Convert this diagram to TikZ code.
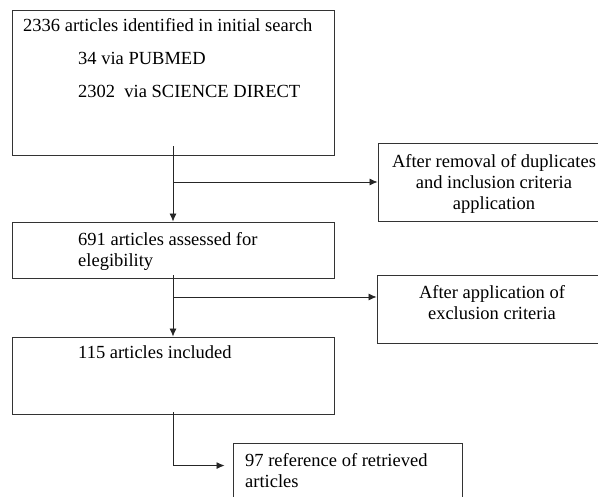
\documentclass[tikz,border=0pt]{standalone}
\usepackage{fontspec}
\setmainfont{Liberation Serif}
\usetikzlibrary{arrows.meta}

\begin{document}
\begin{tikzpicture}[x=1pt, y=-1pt,
  font=\fontsize{18.5}{21}\selectfont,
  box/.style={draw=black!80, line width=0.9pt, inner sep=0pt},
  txt/.style={inner sep=0pt, anchor=base west},
  ctxt/.style={inner sep=0pt, anchor=north, align=center},
  flow/.style={draw=black!85, line width=0.8pt, -{Latex[length=8pt,width=7pt]}}]
  \useasboundingbox (0,0) rectangle (598,497);
  \clip (0,0) rectangle (598,497);

  \node[box, minimum width=322pt, minimum height=145pt] (search) at (173,82.5) {};
  \node[box, minimum width=322pt, minimum height=56pt] (assessed) at (173,250) {};
  \node[box, minimum width=322pt, minimum height=77pt] (included) at (173,375.5) {};
  \node[box, minimum width=230pt, minimum height=78pt] (removal) at (493,182) {};
  \node[box, minimum width=231pt, minimum height=68pt] (exclusion) at (492.5,309) {};
  \node[box, minimum width=229pt, minimum height=66pt] (retrieved) at (347.5,476) {};

  \node[txt] (searchtxt) at (23,32) {2336 articles identified in initial search};
  \node[txt] (pubmed) at (78,65) {34 via PUBMED};
  \node[txt] (scidir) at (78,98) {2302\ \ via SCIENCE DIRECT};
  \node[txt, align=left, anchor=north west] (assessedtxt) at (78,232.5)
    {691 articles assessed for\\ elegibility};
  \node[txt] (includedtxt) at (78,359) {115 articles included};
  \node[ctxt] (removaltxt) at (494,154.5)
    {After removal of duplicates\\ and inclusion criteria\\ application};
  \node[ctxt] (exclusiontxt) at (492,285.5)
    {After application of\\ exclusion criteria};
  \node[txt, align=left, anchor=north west] (retrievedtxt) at (245,453.5)
    {97 reference of retrieved\\ articles};

  \coordinate (excl) at ([yshift=12pt]exclusion.west);
  \coordinate (ret) at ([xshift=-8pt,yshift=-23pt]retrieved.north west);

  \draw[flow, shorten <=-9pt] (search.south) -- (assessed.north);
  \draw[flow] (search.south |- removal.west) -- (removal.west);
  \draw[flow, shorten <=-3pt] (assessed.south) -- (included.north);
  \draw[flow] (assessed.south |- excl) -- (excl);
  \draw[flow, shorten <=-2pt] (included.south) |- (ret);
\end{tikzpicture}
\end{document}
